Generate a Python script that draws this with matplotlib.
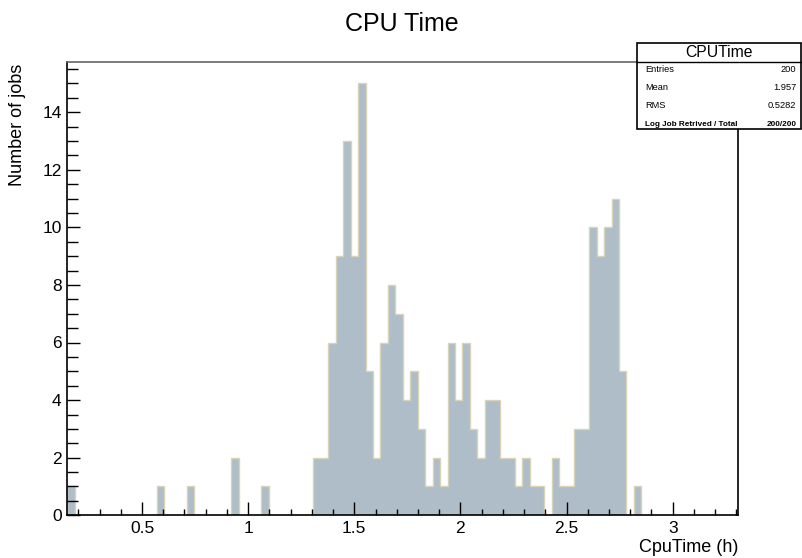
import numpy as np
import matplotlib
matplotlib.use("Agg")
import matplotlib.pyplot as plt
from matplotlib.ticker import MultipleLocator
from matplotlib.patches import Rectangle
from matplotlib.lines import Line2D

plt.rcParams['font.family'] = ['Liberation Sans', 'DejaVu Sans']

# histogram settings
x_min = 0.148
x_max = 3.309
n_bins = 90

# jobs per bin (90 bins)
counts = [1, 0, 0, 0, 0, 0, 0, 0, 0, 0,
          0, 0, 1, 0, 0, 0, 1, 0, 0, 0,
          0, 0, 2, 0, 0, 0, 1, 0, 0, 0,
          0, 0, 0, 2, 2, 6, 9, 13, 9, 15,
          5, 2, 6, 8, 7, 4, 5, 3, 1, 2,
          1, 6, 4, 6, 3, 2, 4, 4, 2, 2,
          1, 2, 1, 1, 0, 2, 1, 1, 3, 3,
          10, 9, 10, 11, 5, 0, 1, 0, 0, 0,
          0, 0, 0, 0, 0, 0, 0, 0, 0, 0]

stat_names = ['Entries', 'Mean', 'RMS']
stat_values = ['200', '1.957', '0.5282']
log_label = 'Log Job Retrived / Total'
log_value = '200/200'

W, H = 802, 558
fig = plt.figure(figsize=(W / 100, H / 100), dpi=100)
fig.patch.set_facecolor('white')

left, right, top, bottom = 67.3, 738.3, 61.7, 515.3
ax = fig.add_axes([left / W, 1 - bottom / H, (right - left) / W, (bottom - top) / H])

edges = np.linspace(x_min, x_max, n_bins + 1)
ax.stairs(counts, edges, fill=True, color='#aebdc8', linewidth=0)
ax.stairs(counts, edges, fill=False, color='#d9d4b8', linewidth=1.0)

ax.set_xlim(x_min, x_max)
ax.set_ylim(0, 15.75)

ax.xaxis.set_major_locator(MultipleLocator(0.5))
ax.xaxis.set_minor_locator(MultipleLocator(0.1))
ax.yaxis.set_major_locator(MultipleLocator(2))
ax.yaxis.set_minor_locator(MultipleLocator(0.5))
ax.xaxis.set_major_formatter(plt.FuncFormatter(lambda v, p: f'{v:g}'))

ax.tick_params(axis='x', which='major', direction='in', length=9.5, width=1, labelsize=12.5, pad=4, top=False)
ax.tick_params(axis='x', which='minor', direction='in', length=4.5, width=1, top=False)
ax.tick_params(axis='y', which='major', direction='in', length=9.5, width=1, labelsize=12.5, pad=4, right=False)
ax.tick_params(axis='y', which='minor', direction='in', length=8, width=1, right=False)

for side in ['left', 'bottom', 'right']:
    ax.spines[side].set_linewidth(1.2)
    ax.spines[side].set_color('black')
ax.spines['top'].set_linewidth(1.2)
ax.spines['top'].set_color('#666666')

fig.text(402 / W, 1 - 24 / H, 'CPU Time', ha='center', va='center', fontsize=18)
fig.text(right / W, 1 - 548 / H, 'CpuTime (h)', ha='right', va='center', fontsize=13)
fig.text(18 / W, 1 - 64 / H, 'Number of jobs', ha='center', va='top', rotation=90, fontsize=13)

# stats box
bx0, bx1, by0, by1 = 636.7, 801, 42.7, 129
fig.patches.append(Rectangle((bx0 / W, 1 - by1 / H), (bx1 - bx0) / W, (by1 - by0) / H,
                             transform=fig.transFigure, facecolor='white', edgecolor='black',
                             linewidth=1.2, zorder=5))
fig.lines.append(Line2D([bx0 / W, bx1 / W], [1 - 62.3 / H, 1 - 62.3 / H],
                        transform=fig.transFigure, color='black', linewidth=1, zorder=6))
fig.text((bx0 + bx1) / 2 / W, 1 - 52.5 / H, 'CPUTime', ha='center', va='center', fontsize=11.3, zorder=7)

row_y = [69.3, 87.3, 106]
for name, val, y in zip(stat_names, stat_values, row_y):
    fig.text(645 / W, 1 - y / H, name, ha='left', va='center', fontsize=6.7, zorder=7)
    fig.text(796.5 / W, 1 - y / H, val, ha='right', va='center', fontsize=6.7, zorder=7)
fig.text(645 / W, 1 - 124 / H, log_label, ha='left', va='center', fontsize=5.9, fontweight='bold', zorder=7)
fig.text(796.5 / W, 1 - 124 / H, log_value, ha='right', va='center', fontsize=5.9, fontweight='bold', zorder=7)

plt.savefig('out.png', dpi=100)
